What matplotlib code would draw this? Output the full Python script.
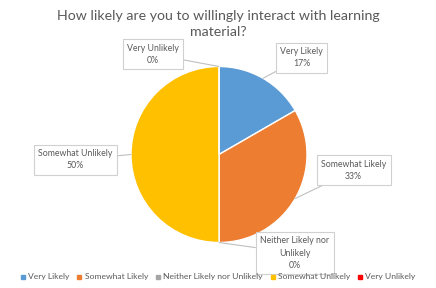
import matplotlib.pyplot as plt
import numpy as np

categories = ["Very Likely", "Somewhat Likely", "Neither Likely nor Unlikely",
              "Somewhat Unlikely", "Very Unlikely"]
counts = [1, 2, 0, 3, 0]
colors = ["#5B9BD5", "#ED7D31", "#A5A5A5", "#FFC000", "#FF0000"]
label_text = ["Very Likely", "Somewhat Likely", "Neither Likely nor\nUnlikely",
              "Somewhat Unlikely", "Very Unlikely"]
# where each data label box sits (pie radius = 1)
label_pos = [(0.94, 1.10), (1.53, -0.18), (0.86, -1.12), (-1.63, -0.06), (-0.75, 1.14)]

grey = "#595959"
plt.rcParams['font.family'] = ['Lato', 'DejaVu Sans']

fig = plt.figure(figsize=(4.36, 2.88), dpi=100)
ax = fig.add_axes([131 / 436, 45.5 / 288, 176 / 436, 176 / 288])

total = sum(counts)
wedges, _ = ax.pie(counts, colors=colors, startangle=90, counterclock=False,
                   radius=1, wedgeprops=dict(edgecolor="white", linewidth=1))
ax.set_xlim(-1, 1)
ax.set_ylim(-1, 1)
ax.set_aspect("equal")
ax.axis("off")

for w, txt, pos, c in zip(wedges, label_text, label_pos, counts):
    mid = np.deg2rad((w.theta1 + w.theta2) / 2)
    tip = (np.cos(mid), np.sin(mid))
    pct = round(100 * c / total)
    ax.annotate(f"{txt}\n{pct}%", xy=tip, xytext=pos, ha="center", va="center",
                fontsize=6.3, color=grey, linespacing=1.45, annotation_clip=False,
                bbox=dict(boxstyle="square,pad=0.5", fc="white", ec="#D0D0D0", lw=0.8),
                arrowprops=dict(arrowstyle="-", color="#BFBFBF", lw=0.8,
                                shrinkA=0, shrinkB=0))

fig.text(0.5, 1 - 24 / 288, "How likely are you to willingly interact with learning\nmaterial?",
         ha="center", va="center", fontsize=10.2, color=grey, linespacing=1.35)

handles = [plt.Line2D([], [], marker="s", linestyle="", color=c, markersize=3.2)
           for c in colors]
fig.legend(handles, categories, loc="center", bbox_to_anchor=(0.5, 1 - 277 / 288),
           ncol=5, frameon=False, fontsize=6.1, handlelength=0.6, handletextpad=0.3,
           columnspacing=0.9, labelcolor=grey)

fig.savefig("out.png", dpi=100)
